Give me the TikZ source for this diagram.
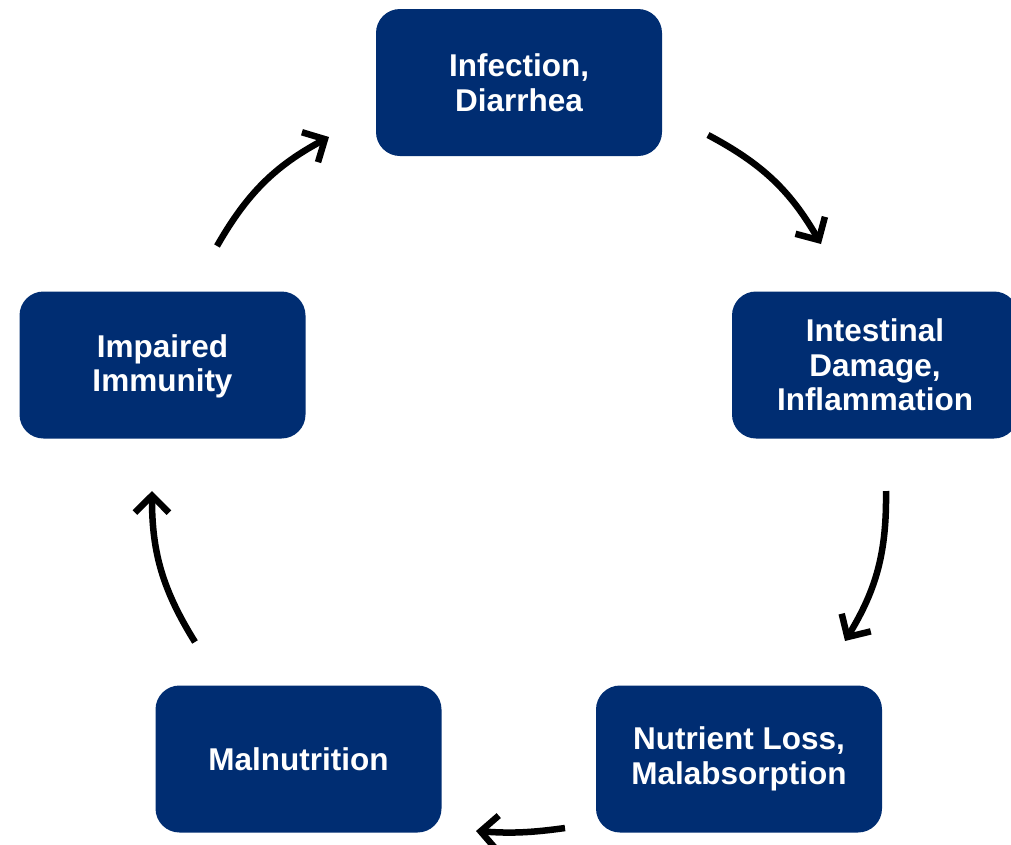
\documentclass[tikz,border=0pt]{standalone}
\usepackage{fontspec}
\setmainfont{Liberation Sans}
\usetikzlibrary{arrows.meta}
\definecolor{navy}{RGB}{0,45,114}
\begin{document}
\begin{tikzpicture}[x=1pt,y=-1pt,
  box/.style={fill=navy, rounded corners=24pt, minimum width=286pt, minimum height=147pt,
    text=white, align=center, font=\fontsize{31.5}{34.5}\selectfont\bfseries, inner sep=0pt},
  flow/.style={line width=6.5pt, -{Straight Barb[length=17pt,width=34pt,line width=6.5pt]}}]
\useasboundingbox (0,0) rectangle (1011,844);
\node[box] (inf) at (519,82.5) {Infection,\\Diarrhea};
\node[box] (int) at (875,365) {Intestinal\\Damage,\\Inflammation};
\node[box] (nut) at (739,759) {Nutrient Loss,\\Malabsorption};
\node[box] (mal) at (298.5,759) {Malnutrition};
\node[box, text depth=4pt] (imm) at (162.5,365) {Impaired\\Immunity};
\coordinate (a1s) at (708,135); \coordinate (a1e) at (821,244);
\coordinate (a2s) at (886,491); \coordinate (a2e) at (845,641);
\coordinate (a3s) at (565,828); \coordinate (a3e) at (476,831);
\coordinate (a4s) at (195,642); \coordinate (a4e) at (152,491);
\coordinate (a5s) at (217,246); \coordinate (a5e) at (329,137);
\draw[flow] (a1s) to[bend left=16] (a1e);
\draw[flow] (a2s) to[bend left=16] (a2e);
\draw[flow] (a3s) to[bend left=6] (a3e);
\draw[flow] (a4s) to[bend left=16] (a4e);
\draw[flow] (a5s) to[bend left=16] (a5e);
\end{tikzpicture}
\end{document}
